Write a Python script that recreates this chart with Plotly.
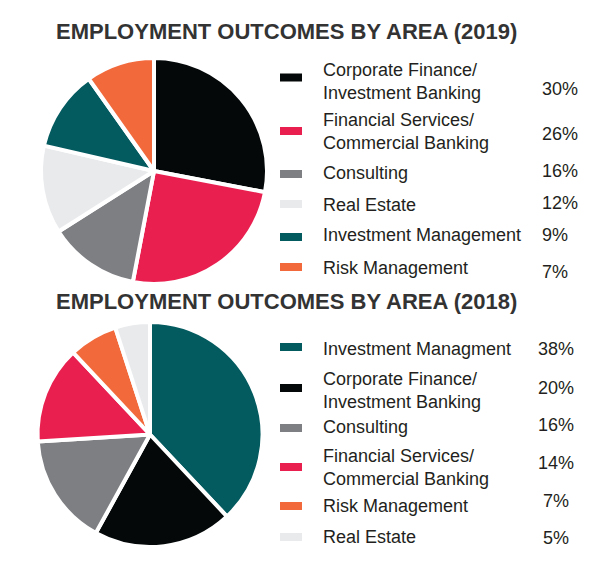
import plotly.graph_objects as go

W, H = 600, 563

# ---------------- data ----------------
title_2019 = "EMPLOYMENT OUTCOMES BY AREA (2019)"
title_2018 = "EMPLOYMENT OUTCOMES BY AREA (2018)"

areas_2019 = ["Corporate Finance/<br>Investment Banking", "Financial Services/<br>Commercial Banking",
              "Consulting", "Real Estate", "Investment Management", "Risk Management"]
pct_2019 = [30, 26, 16, 12, 9, 7]            # stated percentages (legend)
slice_2019 = [28, 25, 13, 12.6, 11.6, 9.8]   # slice sizes as drawn in the pie

areas_2018 = ["Investment Managment", "Corporate Finance/<br>Investment Banking", "Consulting",
              "Financial Services/<br>Commercial Banking", "Risk Management", "Real Estate"]
pct_2018 = [38, 20, 16, 14, 7, 5]

color_map = {
    "Corporate Finance": "#040809",
    "Financial Services": "#E91F50",
    "Consulting": "#7E7F83",
    "Real Estate": "#E9EAEC",
    "Investment Manag": "#035A5F",
    "Risk Management": "#F26A3C",
}

def color_of(name):
    for k, v in color_map.items():
        if name.startswith(k):
            return v
    return "#999999"

colors_2019 = [color_of(a) for a in areas_2019]
colors_2018 = [color_of(a) for a in areas_2018]

# ---------------- layout helpers ----------------
def px(x):
    return x / W

def py(y):
    return 1 - y / H

fig = go.Figure()

fig.add_trace(go.Pie(
    labels=areas_2019, values=slice_2019, sort=False, direction="clockwise", rotation=0,
    marker=dict(colors=colors_2019, line=dict(color="white", width=4)),
    textinfo="none", hoverinfo="label+percent", showlegend=False,
    domain=dict(x=[px(41), px(267)], y=[py(284), py(58)]),
))
fig.add_trace(go.Pie(
    labels=areas_2018, values=pct_2018, sort=False, direction="clockwise", rotation=0,
    marker=dict(colors=colors_2018, line=dict(color="white", width=4)),
    textinfo="none", hoverinfo="label+percent", showlegend=False,
    domain=dict(x=[px(37.5), px(262.5)], y=[py(547), py(322)]),
))

annotations = []
shapes = []
TITLE_FONT = dict(family="Liberation Sans", size=22, color="#333333")
TEXT_FONT = dict(family="Liberation Sans", size=18, color="#231F20")

annotations.append(dict(text="<b>" + title_2019 + "</b>", x=px(286), y=py(31.5), xref="paper", yref="paper",
                        xanchor="center", yanchor="middle", showarrow=False, font=TITLE_FONT))
annotations.append(dict(text="<b>" + title_2018 + "</b>", x=px(286), y=py(301.5), xref="paper", yref="paper",
                        xanchor="center", yanchor="middle", showarrow=False, font=TITLE_FONT))

# legend row positions (pixels): swatch center, label center, percent center
rows_2019 = [(77.5, 81.5, 89), (131, 131, 134), (174, 173, 171),
             (204, 205, 203), (237, 235, 235), (267, 268, 272)]
rows_2018 = [(347, 349, 349), (388, 390.5, 388), (428, 427, 425),
             (467, 467.5, 463), (506, 506, 501), (537, 537, 538)]

def add_legend(areas, pcts, colors, rows, pct_x, pct_anchor):
    for name, p, c, (sy, ly, pyy) in zip(areas, pcts, colors, rows):
        shapes.append(dict(type="rect", xref="paper", yref="paper",
                           x0=px(280), x1=px(302), y0=py(sy + 4), y1=py(sy - 4),
                           fillcolor=c, line=dict(width=0)))
        annotations.append(dict(text=name, x=px(321), y=py(ly), xref="paper", yref="paper",
                                xanchor="left", yanchor="middle", align="left", showarrow=False,
                                font=TEXT_FONT))
        annotations.append(dict(text=f"{p}%", x=px(pct_x), y=py(pyy), xref="paper", yref="paper",
                                xanchor=pct_anchor, yanchor="middle", showarrow=False, font=TEXT_FONT))

add_legend(areas_2019, pct_2019, colors_2019, rows_2019, 540, "left")
add_legend(areas_2018, pct_2018, colors_2018, rows_2018, 556, "center")

fig.update_layout(
    width=W, height=H, margin=dict(l=0, r=0, t=0, b=0),
    paper_bgcolor="white", plot_bgcolor="white",
    annotations=annotations, shapes=shapes, showlegend=False,
)

fig.write_html("out.html")
